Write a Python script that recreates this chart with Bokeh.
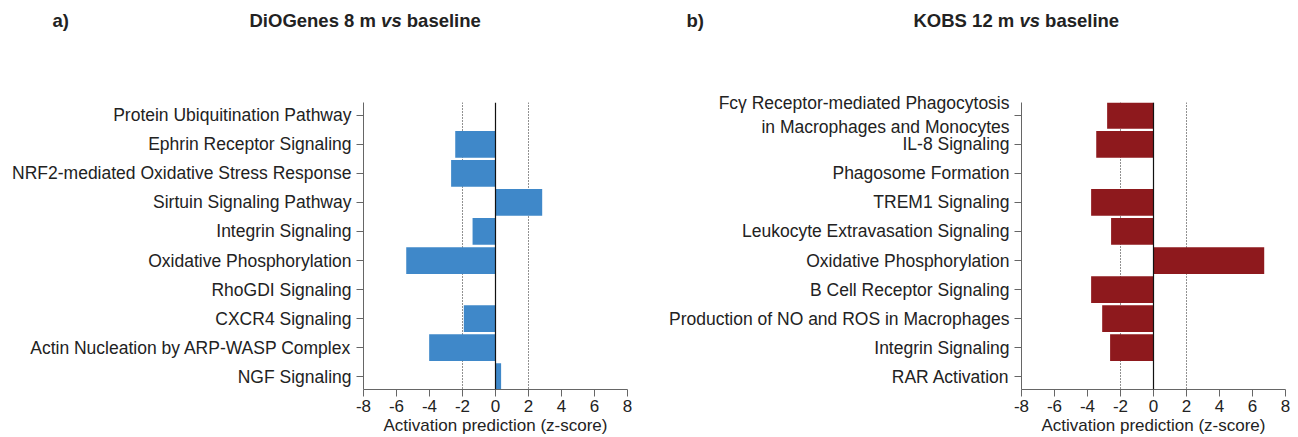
from bokeh.plotting import figure
from bokeh.models import Range1d, FixedTicker, Span, Label, ColumnDataSource
from bokeh.layouts import row, column
from bokeh.embed import file_html
from bokeh.resources import INLINE

# ---- data (top to bottom) ----
diogenes_pathways = [
    "Protein Ubiquitination Pathway",
    "Ephrin Receptor Signaling",
    "NRF2-mediated Oxidative Stress Response",
    "Sirtuin Signaling Pathway",
    "Integrin Signaling",
    "Oxidative Phosphorylation",
    "RhoGDI Signaling",
    "CXCR4 Signaling",
    "Actin Nucleation by ARP-WASP Complex",
    "NGF Signaling",
]
diogenes_z = [0.0, -2.44, -2.69, 2.83, -1.39, -5.41, 0.0, -1.92, -4.02, 0.34]

kobs_pathways = [
    "Fc\u03b3 Receptor-mediated Phagocytosis\nin Macrophages and Monocytes",
    "IL-8 Signaling",
    "Phagosome Formation",
    "TREM1 Signaling",
    "Leukocyte Extravasation Signaling",
    "Oxidative Phosphorylation",
    "B Cell Receptor Signaling",
    "Production of NO and ROS in Macrophages",
    "Integrin Signaling",
    "RAR Activation",
]
kobs_z = [-2.81, -3.47, 0.0, -3.78, -2.57, 6.71, -3.78, -3.11, -2.63, 0.0]

x_ticks = [-8, -6, -4, -2, 0, 2, 4, 6, 8]
x_tick_labels = ["-8", "-6", "-4", "-2", "0", "2", "4", "6", "8"]
thresholds = [-2, 2]
x_label = "Activation prediction (z-score)"

FONT = "Liberation Sans"
TEXT = "#222222"
AXIS = "#666666"
TOTAL_W = 1298
HEADER_H = 44


def panel(pathways, z, color, border_left, border_right):
    n = len(pathways)
    ys = list(range(n))
    p = figure(frame_width=264, frame_height=287,
               min_border_left=border_left, min_border_right=border_right,
               min_border_top=102 - HEADER_H, min_border_bottom=0,
               x_range=Range1d(x_ticks[0], x_ticks[-1]),
               y_range=Range1d(start=n - 1 + 0.44, end=-0.44),
               output_backend="svg", toolbar_location=None)
    p.grid.visible = False
    p.outline_line_color = None

    for t in thresholds:
        p.add_layout(Span(location=t, dimension="height", line_color="#222222",
                          line_width=1, line_dash="1 2", level="underlay"))

    src = ColumnDataSource(dict(y=ys, z=z))
    p.hbar(y="y", left=0, right="z", height=0.92, source=src,
           fill_color=color, line_color=None)

    p.add_layout(Span(location=0, dimension="height", line_color="#111111",
                      line_width=1.2))

    p.xaxis.ticker = FixedTicker(ticks=x_ticks)
    p.xaxis.major_label_overrides = dict(zip(x_ticks, x_tick_labels))
    p.yaxis.ticker = FixedTicker(ticks=ys)
    p.yaxis.major_label_overrides = {i: s for i, s in enumerate(pathways)}

    for ax in (p.xaxis, p.yaxis):
        ax.axis_line_color = AXIS
        ax.major_tick_line_color = AXIS
        ax.minor_tick_line_color = None
        ax.major_tick_in = 0
        ax.major_tick_out = 7
        ax.major_label_text_font = FONT
        ax.major_label_text_color = TEXT

    p.yaxis.major_label_text_font_size = "17.5px"
    p.yaxis.major_label_standoff = 5
    p.xaxis.major_label_text_font_size = "17px"
    p.xaxis.major_label_standoff = 3
    p.xaxis.axis_label = x_label
    p.xaxis.axis_label_text_font = FONT
    p.xaxis.axis_label_text_font_size = "17px"
    p.xaxis.axis_label_text_font_style = "normal"
    p.xaxis.axis_label_text_color = TEXT
    p.xaxis.axis_label_standoff = 1
    return p


# header strip with panel letters and titles
header = figure(width=TOTAL_W, height=HEADER_H, min_border=0,
                x_range=Range1d(0, TOTAL_W), y_range=Range1d(HEADER_H, 0),
                x_axis_type=None, y_axis_type=None,
                output_backend="svg", toolbar_location=None)
header.grid.visible = False
header.outline_line_color = None

title_items = [
    (52, "a)", "bold"),
    (249, "DiOGenes 8 m", "bold"),
    (249 + 131.6, "vs", "bold italic"),
    (249 + 157.3, "baseline", "bold"),
    (686, "b)", "bold"),
    (913, "KOBS 12 m", "bold"),
    (913 + 105.9, "vs", "bold italic"),
    (913 + 131.6, "baseline", "bold"),
]
for x, txt, style in title_items:
    header.add_layout(Label(x=x, y=20, text=txt, text_font=FONT,
                            text_font_size="18.5px", text_font_style=style,
                            text_color=TEXT, text_baseline="middle"))

p1 = panel(diogenes_pathways, diogenes_z, "#3F88C9", 363, 21)
p2 = panel(kobs_pathways, kobs_z, "#8E191D", 1021 - 648, TOTAL_W - 1285)

layout = column(header, row(p1, p2))
open("out.html", "w").write(file_html(layout, INLINE))
